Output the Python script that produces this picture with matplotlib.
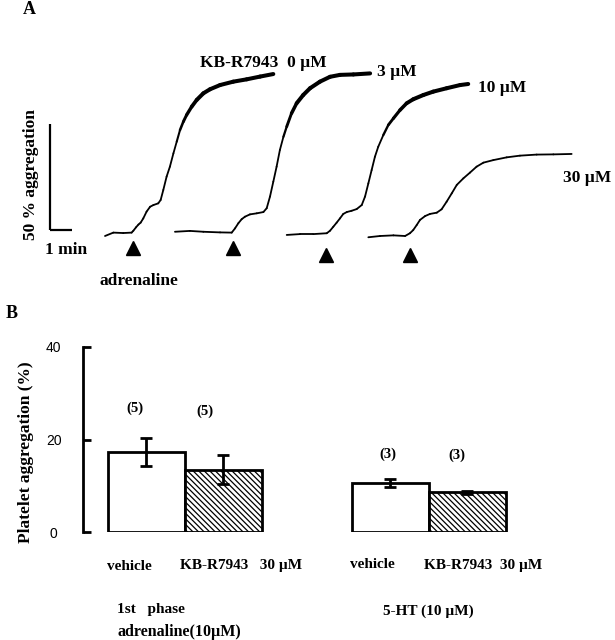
import matplotlib
matplotlib.use("Agg")
import matplotlib.pyplot as plt
from matplotlib.collections import LineCollection
import numpy as np

# ---------------- Data ----------------
# Panel A: aggregation traces (x in min along the recording, y in % aggregation)
conc_labels = ["KB-R7943  0 \u00b5M", "3 \u00b5M", "10 \u00b5M", "30 \u00b5M"]

t0_x = [2.50, 2.88, 3.33, 3.71, 3.79, 3.91, 4.02, 4.12, 4.24, 4.39, 4.55, 4.70,
        4.92, 5.03, 5.15, 5.30, 5.45, 5.61, 5.76, 5.91, 6.06, 6.21, 6.44, 6.67,
        6.97, 7.27, 7.73, 8.33, 8.94, 9.55, 10.15]
t0_y = [0.0, 1.6, 1.4, 1.6, 2.5, 4.1, 5.4, 6.3, 8.3, 11.5, 13.8, 14.6,
        15.4, 17.0, 21.7, 28.0, 32.7, 39.0, 44.5, 50.0, 53.9, 57.1, 61.0, 64.2,
        67.3, 69.2, 71.2, 72.8, 73.9, 75.2, 76.4]

t3_x = [5.68, 6.36, 6.97, 7.73, 8.26, 8.41, 8.56, 8.71, 8.86, 9.09, 9.40, 9.70,
        9.85, 10.00, 10.15, 10.30, 10.45, 10.61, 10.76, 10.98, 11.21, 11.51,
        11.82, 12.27, 12.73, 13.18, 13.79, 14.55]
t3_y = [2.0, 2.4, 2.0, 1.7, 1.6, 3.6, 6.0, 7.9, 9.1, 10.2, 10.7, 11.3,
        13.1, 18.6, 25.6, 32.7, 40.6, 46.8, 51.6, 57.9, 62.6, 66.5,
        69.7, 72.8, 75.1, 76.0, 76.2, 76.7]

t10_x = [10.76, 11.36, 11.97, 12.58, 12.73, 12.88, 13.03, 13.18, 13.33, 13.49,
         13.71, 13.94, 14.17, 14.32, 14.47, 14.62, 14.77, 14.92, 15.15, 15.38,
         15.61, 15.91, 16.21, 16.51, 16.97, 17.42, 18.03, 18.64, 19.01]
t10_y = [0.5, 0.9, 0.9, 1.3, 2.5, 4.4, 6.3, 8.3, 10.4, 11.3,
         11.9, 12.7, 14.6, 18.6, 24.8, 31.1, 37.4, 42.1, 47.6, 52.4,
         55.5, 59.4, 62.6, 64.5, 66.5, 68.1, 69.7, 71.2, 71.7]

t30_x = [14.47, 15.00, 15.61, 16.14, 16.36, 16.51, 16.67, 16.82, 17.05, 17.27,
         17.58, 17.80, 18.03, 18.26, 18.49, 18.79, 19.09, 19.39, 19.70, 20.15,
         20.76, 21.36, 22.12, 22.88, 23.71]
t30_y = [-0.6, 0.0, 0.3, 0.0, 1.3, 2.8, 5.2, 7.6, 9.4, 10.4,
         11.0, 12.6, 16.2, 20.1, 24.1, 27.2, 29.9, 32.7, 34.6, 35.8,
         37.1, 37.9, 38.4, 38.5, 38.7]

adrenaline_times = [3.77, 8.32, 12.55, 16.36]

# Panel B: platelet aggregation (%)
groups = ["1st   phase\nadrenaline(10\u00b5M)", "5-HT (10 \u00b5M)"]
treatments = ["vehicle", "KB-R7943   30 \u00b5M"]
adr_mean = [17.3, 13.5]
adr_err = [3.0, 3.1]
ht_mean = [10.6, 8.6]
ht_err = [0.9, 0.3]
n_adr = ["(5)", "(5)"]
n_ht = ["(3)", "(3)"]

# ---------------- Figure ----------------
W, H = 615, 640
fig = plt.figure(figsize=(W / 100, H / 100), dpi=100)
SERIF = ["Liberation Serif", "DejaVu Serif"]
SANS = ["Liberation Sans", "DejaVu Sans"]
plt.rcParams["hatch.linewidth"] = 0.9


def ftext(px, py, s, size=12, ha="left", va="center", rot=0, family=SERIF, weight="bold"):
    fig.text(px / W, 1 - py / H, s, fontsize=size, ha=ha, va=va, rotation=rot,
             family=family, fontweight=weight)


# ---- Panel A ----
px_per_min = 22.0
px_per_pct = 2.12
x_origin_px = 50.0
y_origin_px = 236.0
axA = fig.add_axes([0, 1 - 300 / H, 1, 300 / H])
axA.set_xlim((0 - x_origin_px) / px_per_min, (W - x_origin_px) / px_per_min)
axA.set_ylim((y_origin_px - 300) / px_per_pct, y_origin_px / px_per_pct)
axA.axis("off")

traces = [(t0_x, t0_y), (t3_x, t3_y), (t10_x, t10_y), (t30_x, t30_y)]
for i, (tx, ty) in enumerate(traces):
    tx = np.array(tx)
    ty = np.array(ty)
    pts = np.column_stack([tx, ty])
    segs = np.stack([pts[:-1], pts[1:]], axis=1)
    ymid = 0.5 * (ty[:-1] + ty[1:])
    if i < 3:
        lws = 1.3 + 1.6 * np.clip((ymid - 45) / 20, 0, 1)
    else:
        lws = np.full(len(ymid), 1.3)
    lc = LineCollection(segs, linewidths=lws, colors="black", capstyle="round",
                        joinstyle="round")
    axA.add_collection(lc)

marker_y = [-5.7, -5.7, -9.0, -9.0]
axA.plot(adrenaline_times, marker_y, ls="none", marker="^", color="black", markersize=10)

# scale bar: 50 % and 1 min
sb_y0 = (y_origin_px - 230) / px_per_pct
axA.plot([0, 0], [sb_y0, sb_y0 + 50], color="black", lw=1.6, solid_capstyle="butt")
axA.plot([0, 1], [sb_y0, sb_y0], color="black", lw=1.6, solid_capstyle="butt")

ftext(23, 9, "A", size=13)
ftext(200, 63, conc_labels[0], size=12.5)
ftext(377, 72, conc_labels[1], size=12.5)
ftext(478, 88, conc_labels[2], size=12.5)
ftext(563, 178, conc_labels[3], size=12.5)
ftext(31, 175, "50 % aggregation", size=12.5, ha="center", rot=90)
ftext(45, 250, "1 min", size=12.5)
ftext(100, 281, "adrenaline", size=12.5)

# ---- Panel B ----
bar_px = 77.0
c1 = 146.0
left_px, right_px = 83.0, 600.0
y0_px, y40_px = 532.0, 347.0
axB = fig.add_axes([left_px / W, 1 - y0_px / H, (right_px - left_px) / W, (y0_px - y40_px) / H])
axB.set_xlim((left_px - c1) / bar_px, (right_px - c1) / bar_px)
axB.set_ylim(0, 40)
x_pos = [0.0, 1.0, 3.175, 4.175]
means = adr_mean + ht_mean
errs = adr_err + ht_err
dense = "\\" * 6
hatches = [None, dense, None, dense]
for xp, mv, hh in zip(x_pos, means, hatches):
    axB.bar(xp, mv, width=1.0, color="white", edgecolor="black", linewidth=2.0,
            hatch=hh, zorder=2)
axB.errorbar(x_pos, means, yerr=errs, fmt="none", ecolor="black", elinewidth=2.0,
             capsize=4.5, capthick=2.0, zorder=3)

for s in ["top", "right", "bottom"]:
    axB.spines[s].set_visible(False)
axB.spines["left"].set_linewidth(2.0)
axB.set_xticks([])
axB.set_yticks([0, 20, 40])
axB.tick_params(axis="y", direction="in", length=6, width=2.0, pad=21)
for lab in axB.get_yticklabels():
    lab.set_family(SANS)
    lab.set_fontsize(10)
    lab.set_horizontalalignment("center")

ftext(6, 313, "B", size=13)
ftext(26, 452, "Platelet aggregation (%)", size=12.5, ha="center", rot=90)
ftext(135, 408, n_adr[0], size=10.5, ha="center")
ftext(205, 411, n_adr[1], size=10.5, ha="center")
ftext(388, 454, n_ht[0], size=10.5, ha="center")
ftext(457, 455, n_ht[1], size=10.5, ha="center")
ftext(107, 566, treatments[0], size=11)
ftext(180, 566, treatments[1], size=11)
ftext(350, 565, treatments[0], size=11)
ftext(424, 565, treatments[1].replace("   ", "  "), size=11)
g1a, g1b = groups[0].split("\n")
ftext(117, 610, g1a, size=11)
ftext(117, 632, g1b, size=11.5)
ftext(383, 611, groups[1], size=11)

fig.savefig("out.png", dpi=100, facecolor="white")
